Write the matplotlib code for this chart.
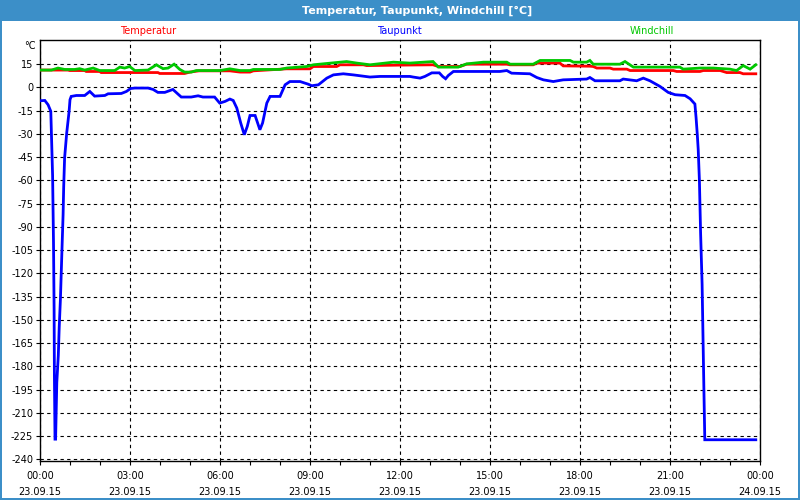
import matplotlib
matplotlib.use("Agg")
import matplotlib.pyplot as plt
from matplotlib.patches import Rectangle

# ---------------- data (hours since 23.09.15 00:00, °C) ----------------
temp_h = [0.0, 0.93, 0.99, 1.49, 1.54, 1.99, 2.04, 3.93, 3.99, 4.82, 5.0, 5.3,
          6.0, 6.33, 6.67, 7.0, 7.11, 8.22, 9.0, 9.11, 9.89, 10.0, 10.78, 10.89,
          12.0, 13.1, 13.28, 14.0, 14.22, 15.56, 15.67, 16.44, 16.56, 17.33, 17.44,
          18.33, 18.44, 18.56, 19.0, 19.11, 19.56, 19.67, 21.11, 21.22, 22.0, 22.11,
          22.67, 22.89, 23.33, 23.44, 23.86]
temp_v = [11.1, 11.1, 10.8, 10.8, 10.2, 10.2, 9.5, 9.5, 8.9, 8.9, 9.8, 10.6,
          10.6, 10.6, 9.8, 9.8, 10.6, 11.9, 11.9, 13.4, 13.4, 14.5, 14.5, 14.0,
          14.3, 14.5, 13.4, 13.4, 14.9, 14.9, 14.5, 14.5, 15.6, 15.6, 13.8,
          13.6, 13.4, 12.4, 12.4, 11.7, 11.7, 10.8, 10.8, 10.2, 10.2, 10.8,
          10.8, 9.5, 9.5, 8.7, 8.7]

wind_h = [0.0, 0.38, 0.6, 0.82, 1.16, 1.32, 1.49, 1.77, 1.99, 2.49, 2.66, 2.82,
          2.99, 3.16, 3.6, 3.88, 4.1, 4.27, 4.47, 4.66, 4.82, 5.04, 5.21, 5.82,
          6.0, 6.33, 6.67, 7.0, 7.11, 8.0, 8.22, 8.89, 9.11, 10.22, 10.56, 11.0,
          11.78, 12.33, 13.1, 13.28, 13.94, 14.22, 14.78, 15.56, 15.67, 16.44,
          16.67, 17.67, 17.78, 18.22, 18.33, 18.44, 19.33, 19.5, 19.78, 21.33,
          21.44, 22.0, 22.44, 23.0, 23.22, 23.44, 23.67, 23.86]
wind_v = [11.1, 11.1, 12.4, 11.5, 11.5, 12.0, 11.1, 12.4, 10.8, 10.8, 13.0, 12.4,
          13.4, 10.8, 11.1, 14.5, 12.0, 12.4, 14.9, 11.5, 9.8, 9.8, 10.8, 10.8,
          10.8, 11.9, 10.8, 10.8, 11.5, 11.5, 12.4, 13.4, 14.5, 16.6, 15.6, 14.5,
          16.2, 15.6, 16.6, 13.0, 13.0, 15.1, 16.2, 16.2, 14.9, 14.9,
          17.3, 17.3, 16.2, 16.2, 17.3, 14.9, 14.9, 16.6, 13.0, 13.0,
          11.7, 12.4, 12.4, 11.7, 10.8, 14.0, 11.7, 14.5]

dew_h = [0.0, 0.16, 0.27, 0.36, 0.42, 0.45, 0.47, 0.48, 0.50, 0.52, 0.56, 0.61,
         0.64, 0.68, 0.71, 0.74, 0.77, 0.79, 0.82, 0.89, 0.97, 1.0, 1.04, 1.21,
         1.49, 1.66, 1.82, 2.16, 2.27, 2.71, 2.88, 3.02, 3.16, 3.6, 3.77, 3.93,
         4.16, 4.43, 4.6, 4.71, 5.04, 5.27, 5.43, 5.82, 5.99, 6.17, 6.33, 6.44,
         6.56, 6.69, 6.81, 6.91, 7.0, 7.17, 7.33, 7.42, 7.56, 7.67, 8.0, 8.17,
         8.33, 8.67, 8.94, 9.06, 9.28, 9.56, 9.78, 10.11, 10.44, 11.0, 11.33,
         12.33, 12.44, 12.67, 12.83, 13.06, 13.31, 13.42, 13.52, 13.61, 13.78,
         15.33, 15.56, 15.72, 16.33, 16.56, 16.78, 17.11, 17.44, 18.22, 18.33,
         18.5, 19.33, 19.44, 19.89, 20.11, 20.33, 20.67, 20.94, 21.17, 21.5,
         21.67, 21.83, 21.87, 21.91, 21.94, 21.98, 22.02, 22.07, 22.1, 22.13,
         22.16, 23.86]
dew_v = [-8.7, -8.5, -11.3, -15.5, -57, -100, -143, -186, -227, -227, -190.5, -173,
         -155, -137, -118.6, -100, -82, -64, -45.6, -29.5, -15.6, -8, -5.9, -5.3,
         -5.3, -2.7, -5.7, -5.3, -4.2, -4.0, -2.7, -0.8, -0.5, -0.5, -1.4, -3.3,
         -3.3, -1.4, -4.4, -6.3, -6.3, -5.5, -6.3, -6.3, -10.2, -9.1, -7.6, -8.5,
         -13.4, -23, -30.6, -25.2, -18.2, -18.2, -27.4, -23, -10.2, -5.9, -5.9, 1.6,
         3.7, 3.7, 2.0, 1.0, 1.6, 5.9, 8.0, 8.7, 8.0, 6.6, 7.0,
         7.0, 6.6, 5.9, 7.0, 9.3, 9.3, 7.0, 5.5, 7.6, 10.2,
         10.2, 10.8, 9.1, 8.7, 6.3, 4.8, 3.7, 4.8, 5.3, 6.3,
         4.2, 4.2, 5.3, 4.2, 5.9, 4.2, 0.5, -3.3, -4.8, -5.3,
         -7.4, -10.8, -19.8, -30.6, -40, -60, -94, -127, -161, -195,
         -227.4, -227.4]

series_names = ["Temperatur", "Taupunkt", "Windchill"]
series_colors = ["#ff0000", "#0000ff", "#00c800"]

x_ticks = [0, 3, 6, 9, 12, 15, 18, 21, 24]
x_labels = ["00:00\n23.09.15", "03:00\n23.09.15", "06:00\n23.09.15",
            "09:00\n23.09.15", "12:00\n23.09.15", "15:00\n23.09.15",
            "18:00\n23.09.15", "21:00\n23.09.15", "00:00\n24.09.15"]
y_ticks = list(range(-240, 16, 15))

# ---------------- figure ----------------
W, H = 800, 500
fig = plt.figure(figsize=(8, 5), dpi=100, facecolor="white")
frame_col = "#3c8fc8"

ax = fig.add_axes([40 / W, 1 - 461 / H, 720 / W, 421 / H])
ax.set_facecolor("white")

ax.plot(temp_h, temp_v, color=series_colors[0], lw=2.0, solid_joinstyle="miter", zorder=3)
ax.plot(wind_h, wind_v, color=series_colors[2], lw=2.0, solid_joinstyle="miter", zorder=4)
ax.plot(dew_h, dew_v, color=series_colors[1], lw=2.0, solid_joinstyle="miter", zorder=5)

ax.set_xlim(0, 24)
ax.set_ylim(-241.1, 30.5)
ax.set_xticks(x_ticks)
ax.set_xticklabels(x_labels, fontsize=7, family="DejaVu Sans", linespacing=1.75)
ax.set_xticks(range(0, 25), minor=True)
ax.set_yticks(y_ticks)
ax.set_yticklabels([str(v) for v in y_ticks], fontsize=7, family="DejaVu Sans")
ax.tick_params(axis="x", which="both", length=3, width=0.8, direction="out", pad=4)
ax.tick_params(axis="y", which="both", length=3, width=0.8, direction="out", pad=2)
ax.grid(True, which="major", color="black", linestyle=(0, (3, 3)), linewidth=0.8)
for s in ax.spines.values():
    s.set_color("black")
    s.set_linewidth(1.0)

# title bar and frame
fig.patches.append(Rectangle((0, 1 - 21 / H), 1, 21 / H, transform=fig.transFigure,
                             facecolor=frame_col, edgecolor="none", zorder=0))
fig.patches.append(Rectangle((0, 0), 2 / W, 1, transform=fig.transFigure,
                             facecolor=frame_col, edgecolor="none"))
fig.patches.append(Rectangle((1 - 2 / W, 0), 2 / W, 1, transform=fig.transFigure,
                             facecolor=frame_col, edgecolor="none"))
fig.patches.append(Rectangle((0, 0), 1, 2 / H, transform=fig.transFigure,
                             facecolor=frame_col, edgecolor="none"))
fig.text(417 / W, 1 - 10.5 / H, "Temperatur, Taupunkt, Windchill [°C]", color="white",
         fontsize=8, fontweight="bold", ha="center", va="center", family="DejaVu Sans")

# series labels
for name, col, xc in zip(series_names, series_colors, [148, 399, 652]):
    fig.text(xc / W, 1 - 31 / H, name, color=col, fontsize=7, ha="center", va="center",
             family="DejaVu Sans")

fig.text(36 / W, 1 - 46 / H, "°C", color="black", fontsize=7, ha="right", va="center",
         family="DejaVu Sans")

fig.savefig("out.png", dpi=100, facecolor="white")
